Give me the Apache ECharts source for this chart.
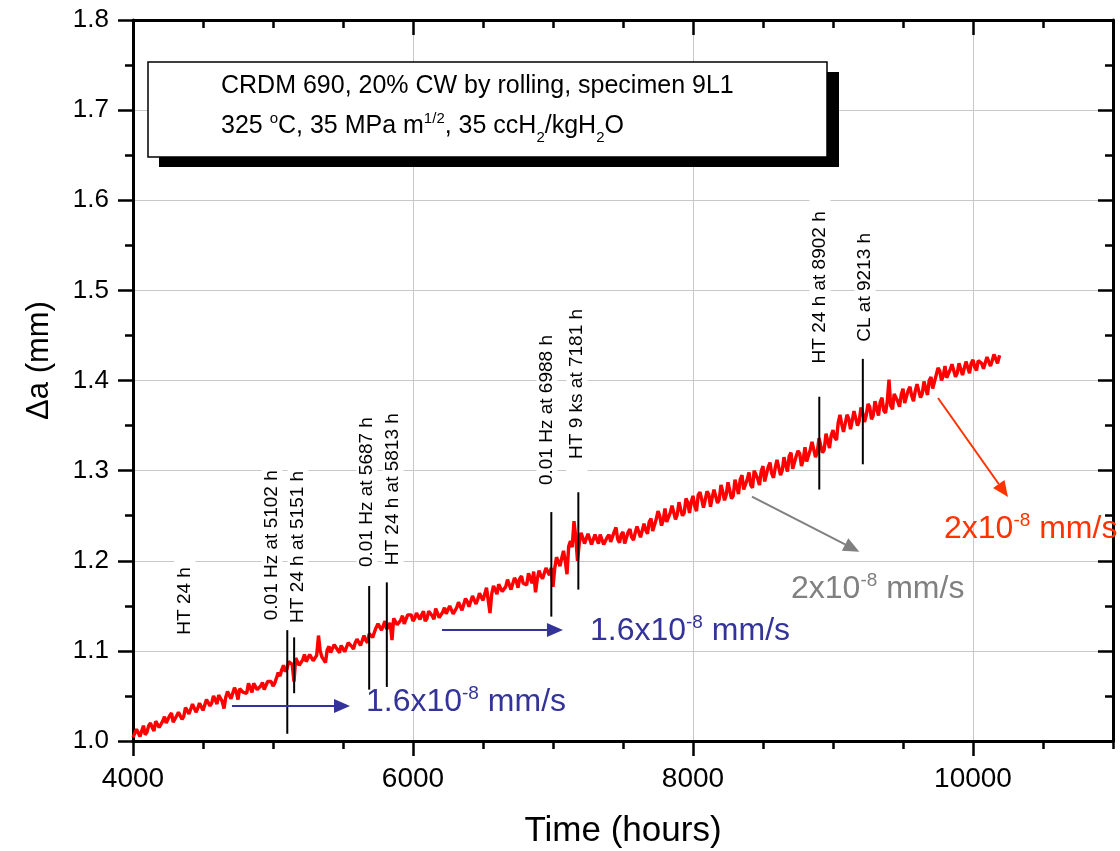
<!DOCTYPE html>
<html>
<head>
<meta charset="utf-8">
<script src="https://cdn.jsdelivr.net/npm/echarts@6/dist/echarts.min.js"></script>
<style>
  html, body { margin: 0; padding: 0; background: #fff; }
  #chart { width: 1120px; height: 851px; }
</style>
</head>
<body>
<div id="chart"></div>
<script>
// Crack extension Δa (mm) against test time (hours), in blocks of 1000 h
const growth4000 = [[4000,1.004],[4025,1.013],[4050,1.005],[4075,1.017],[4100,1.010],[4125,1.020],[4150,1.011],[4175,1.022],[4200,1.014],[4225,1.027],[4250,1.019],[4275,1.031],[4300,1.022],[4325,1.032],[4350,1.024],[4375,1.037],[4400,1.030],[4425,1.041],[4450,1.032],[4475,1.042],[4500,1.034],[4525,1.046],[4550,1.039],[4575,1.050],[4600,1.041],[4625,1.051],[4650,1.036],[4675,1.055],[4700,1.047],[4725,1.059],[4750,1.046],[4775,1.060],[4800,1.052],[4825,1.064],[4850,1.054],[4875,1.064],[4900,1.055],[4925,1.065],[4950,1.058],[4975,1.068],[5000,1.061]];
const growth5000 = [[5025,1.070],[5050,1.072],[5075,1.084],[5100,1.080],[5125,1.089],[5150,1.066],[5175,1.091],[5200,1.083],[5225,1.096],[5250,1.087],[5275,1.098],[5300,1.089],[5325,1.117],[5350,1.093],[5375,1.087],[5400,1.105],[5425,1.097],[5450,1.107],[5475,1.098],[5500,1.108],[5525,1.101],[5550,1.111],[5575,1.102],[5600,1.113],[5625,1.106],[5650,1.117],[5675,1.109],[5700,1.121],[5725,1.121],[5750,1.130],[5775,1.123],[5800,1.133],[5825,1.125],[5850,1.112],[5875,1.136],[5900,1.129],[5925,1.139],[5950,1.131],[5975,1.141],[6000,1.133]];
const growth6000 = [[6025,1.142],[6050,1.135],[6075,1.144],[6100,1.136],[6125,1.144],[6150,1.135],[6175,1.146],[6200,1.137],[6225,1.148],[6250,1.139],[6275,1.152],[6300,1.139],[6325,1.154],[6350,1.145],[6375,1.158],[6400,1.149],[6425,1.161],[6450,1.152],[6475,1.164],[6500,1.156],[6525,1.170],[6550,1.142],[6575,1.172],[6600,1.163],[6625,1.175],[6650,1.165],[6675,1.179],[6700,1.168],[6725,1.181],[6750,1.170],[6775,1.183],[6800,1.173],[6825,1.186],[6850,1.175],[6875,1.165],[6900,1.189],[6925,1.180],[6950,1.192],[6975,1.184],[7000,1.171]];
const growth7000 = [[7025,1.204],[7050,1.194],[7075,1.211],[7100,1.185],[7125,1.222],[7150,1.244],[7175,1.200],[7200,1.231],[7225,1.219],[7250,1.230],[7275,1.218],[7300,1.229],[7325,1.219],[7350,1.230],[7375,1.218],[7400,1.229],[7425,1.219],[7450,1.237],[7475,1.220],[7500,1.232],[7525,1.221],[7550,1.235],[7575,1.223],[7600,1.238],[7625,1.226],[7650,1.241],[7675,1.230],[7700,1.247],[7725,1.235],[7750,1.255],[7775,1.239],[7800,1.258],[7825,1.242],[7850,1.261],[7875,1.246],[7900,1.265],[7925,1.250],[7950,1.269],[7975,1.253],[8000,1.272]];
const growth8000 = [[8025,1.255],[8050,1.276],[8075,1.259],[8100,1.277],[8125,1.260],[8150,1.279],[8175,1.264],[8200,1.284],[8225,1.267],[8250,1.287],[8275,1.269],[8300,1.290],[8325,1.274],[8350,1.295],[8375,1.277],[8400,1.298],[8425,1.281],[8450,1.301],[8475,1.284],[8500,1.305],[8525,1.288],[8550,1.309],[8575,1.292],[8600,1.312],[8625,1.295],[8650,1.315],[8675,1.299],[8700,1.320],[8725,1.303],[8750,1.322],[8775,1.305],[8800,1.326],[8825,1.310],[8850,1.332],[8875,1.315],[8900,1.336],[8925,1.320],[8950,1.341],[8975,1.325],[9000,1.345]];
const growth9000 = [[9025,1.334],[9050,1.362],[9075,1.343],[9100,1.362],[9125,1.346],[9150,1.366],[9175,1.350],[9200,1.370],[9225,1.354],[9250,1.374],[9275,1.357],[9300,1.377],[9325,1.361],[9350,1.381],[9375,1.364],[9400,1.401],[9425,1.368],[9450,1.387],[9475,1.371],[9500,1.391],[9525,1.374],[9550,1.393],[9575,1.377],[9600,1.396],[9625,1.381],[9650,1.399],[9675,1.384],[9700,1.404],[9725,1.393],[9750,1.414],[9775,1.400],[9800,1.416],[9825,1.403],[9850,1.418],[9875,1.404],[9900,1.419],[9925,1.406],[9950,1.421],[9975,1.408],[10000,1.423],[10025,1.411],[10050,1.424],[10075,1.413],[10100,1.426],[10125,1.416],[10150,1.429],[10175,1.419],[10190,1.428]];

// Readings taken between the ones above
const between4000 = [[4012,1.005],[4037,1.013],[4062,1.011],[4087,1.007],[4112,1.017],[4137,1.015],[4162,1.022],[4187,1.015],[4212,1.022],[4237,1.020],[4262,1.028],[4287,1.021],[4312,1.028],[4337,1.033],[4362,1.027],[4387,1.034],[4412,1.031],[4437,1.041],[4462,1.036],[4487,1.041],[4512,1.035],[4537,1.046],[4562,1.042],[4587,1.046],[4612,1.051],[4637,1.044],[4662,1.048],[4687,1.055],[4712,1.047],[4737,1.055],[4762,1.058],[4787,1.054],[4812,1.053],[4837,1.059],[4862,1.064],[4887,1.057],[4912,1.061],[4937,1.057],[4962,1.066],[4987,1.066]];
const between5000 = [[5012,1.064],[5037,1.076],[5062,1.079],[5087,1.077],[5112,1.088],[5137,1.085],[5162,1.092],[5187,1.084],[5212,1.090],[5237,1.088],[5262,1.096],[5287,1.089],[5312,1.095],[5337,1.100],[5362,1.094],[5387,1.101],[5412,1.098],[5437,1.107],[5462,1.101],[5487,1.106],[5512,1.099],[5537,1.109],[5562,1.105],[5587,1.109],[5612,1.114],[5637,1.107],[5662,1.112],[5687,1.119],[5712,1.115],[5737,1.126],[5762,1.129],[5787,1.125],[5812,1.124],[5837,1.131],[5862,1.136],[5887,1.129],[5912,1.134],[5937,1.130],[5962,1.140],[5987,1.140]];
const between6000 = [[6012,1.136],[6037,1.144],[6062,1.140],[6087,1.133],[6112,1.144],[6137,1.139],[6162,1.147],[6187,1.137],[6212,1.143],[6237,1.141],[6262,1.150],[6287,1.141],[6312,1.148],[6337,1.154],[6362,1.146],[6387,1.155],[6412,1.151],[6437,1.162],[6462,1.157],[6487,1.163],[6512,1.156],[6537,1.168],[6562,1.163],[6587,1.168],[6612,1.174],[6637,1.166],[6662,1.171],[6687,1.177],[6712,1.168],[6737,1.178],[6762,1.180],[6787,1.175],[6812,1.173],[6837,1.181],[6862,1.188],[6887,1.179],[6912,1.184],[6937,1.181],[6962,1.191],[6987,1.192]];
const between7000 = [[7012,1.191],[7037,1.204],[7062,1.203],[7087,1.200],[7112,1.216],[7137,1.215],[7162,1.227],[7187,1.218],[7212,1.226],[7237,1.221],[7262,1.230],[7287,1.218],[7312,1.224],[7337,1.229],[7362,1.218],[7387,1.226],[7412,1.221],[7437,1.232],[7462,1.224],[7487,1.229],[7512,1.219],[7537,1.232],[7562,1.226],[7587,1.231],[7612,1.238],[7637,1.228],[7662,1.234],[7687,1.243],[7712,1.233],[7737,1.246],[7762,1.250],[7787,1.245],[7812,1.243],[7837,1.253],[7862,1.260],[7887,1.251],[7912,1.257],[7937,1.253],[7962,1.265],[7987,1.265]];
const between8000 = [[8012,1.261],[8037,1.273],[8062,1.268],[8087,1.259],[8112,1.274],[8137,1.270],[8162,1.281],[8187,1.268],[8212,1.277],[8237,1.273],[8262,1.286],[8287,1.272],[8312,1.282],[8337,1.290],[8362,1.279],[8387,1.290],[8412,1.284],[8437,1.300],[8462,1.291],[8487,1.299],[8512,1.288],[8537,1.304],[8562,1.297],[8587,1.303],[8612,1.312],[8637,1.300],[8662,1.306],[8687,1.316],[8712,1.302],[8737,1.316],[8762,1.319],[8787,1.312],[8812,1.310],[8837,1.323],[8862,1.332],[8887,1.320],[8912,1.328],[8937,1.323],[8962,1.339],[8987,1.339]];
const between9000 = [[9012,1.337],[9037,1.353],[9062,1.352],[9087,1.345],[9112,1.358],[9137,1.355],[9162,1.365],[9187,1.355],[9212,1.364],[9237,1.361],[9262,1.371],[9287,1.361],[9312,1.369],[9337,1.376],[9362,1.367],[9387,1.376],[9412,1.372],[9437,1.385],[9462,1.377],[9487,1.384],[9512,1.375],[9537,1.389],[9562,1.383],[9587,1.388],[9612,1.395],[9637,1.385],[9662,1.391],[9687,1.400],[9712,1.391],[9737,1.406],[9762,1.411],[9787,1.405],[9812,1.403],[9837,1.412],[9862,1.418],[9887,1.408],[9912,1.413],[9937,1.408],[9962,1.419],[9987,1.419],[10012,1.415],[10037,1.422],[10062,1.419],[10087,1.414],[10112,1.424],[10137,1.422],[10162,1.429]];

// Test events: vertical markers (hours, lower and upper end in mm)
const eventHours = [5102, 5151, 5687, 5813, 6988, 7181, 8902, 9213];
const eventLow   = [1.008, 1.053, 1.057, 1.060, 1.138, 1.168, 1.279, 1.307];
const eventHigh  = [1.123, 1.115, 1.172, 1.176, 1.254, 1.276, 1.382, 1.424];

// Event notes, written upward from (hours, mm)
const noteText  = ['HT 24 h', '0.01 Hz at 5102 h', 'HT 24 h at 5151 h', '0.01 Hz at 5687 h', 'HT 24 h at 5813 h',
                   '0.01 Hz at 6988 h', 'HT 9 ks at 7181 h', 'HT 24 h at 8902 h', 'CL at 9213 h'];
const noteHours = [4371, 4993, 5179, 5671, 5857, 6957, 7171, 8907, 9229];
const noteBase  = [1.118, 1.134, 1.131, 1.193, 1.195, 1.284, 1.313, 1.419, 1.443];

// Growth-rate callouts: arrow start, arrow tip, label anchor (hours, mm)
const rateMantissa = ['1.6', '1.6', '2', '2'];
const rateExponent = ['-8', '-8', '-8', '-8'];
const arrowFrom   = [[4707, 1.0388], [6207, 1.1232], [8421, 1.2711], [9750, 1.3806]];
const arrowTo     = [[5550, 1.0388], [7071, 1.1232], [9188, 1.2100], [10250, 1.2707]];
const rateLabelAt = [[5664, 1.0433], [7264, 1.1221], [8700, 1.1687], [9793, 1.2352]];

// Axis ranges and steps
const xRange = [4000, 11000], xMajor = 2000, xMinor = 500;
const yRange = [1.0, 1.8], yMajor = 0.1;

const FONT = '"Liberation Sans", Arial, Helvetica, sans-serif';
const rateColors = ['#333399', '#333399', '#808080', '#ff3300'];
const NOTE_PAD = 12;

// All readings in time order
const growthRecord = [].concat(
  growth4000, growth5000, growth6000, growth7000, growth8000, growth9000,
  between4000, between5000, between6000, between7000, between8000, between9000
).sort((a, b) => a[0] - b[0]);

const chart = echarts.init(document.getElementById('chart'), null, { renderer: 'canvas' });

const axisLine = { show: true, onZero: false, lineStyle: { color: '#000', width: 3 } };
const gridLine = { show: true, lineStyle: { color: '#c8c8c8', width: 1 } };

function xAxisDef(position, step, tickLen, extra) {
  return Object.assign({
    type: 'value', position, min: xRange[0], max: xRange[1], interval: step,
    axisLine: step === xMajor ? axisLine : { show: false },
    axisTick: { show: true, inside: position === 'top', length: tickLen, lineStyle: { color: '#000', width: 2.5 } },
    axisLabel: { show: false },
    splitLine: { show: false }
  }, extra || {});
}

const option = {
  animation: false,
  backgroundColor: '#fff',
  grid: { left: 133, right: 7, top: 20, bottom: 110, containLabel: false, outerBoundsMode: 'none' },
  xAxis: [
    xAxisDef('bottom', xMajor, 15, {
      axisLabel: {
        show: true, showMaxLabel: false, margin: 24, color: '#000', fontSize: 28, fontFamily: FONT,
        formatter: v => (v === xRange[1] ? '' : String(v))
      },
      splitLine: gridLine,
      name: 'Time (hours)', nameLocation: 'middle', nameGap: 73,
      nameTextStyle: { color: '#000', fontSize: 35, fontFamily: FONT }
    }),
    xAxisDef('bottom', xMinor, 8),
    xAxisDef('top', xMajor, 15),
    xAxisDef('top', xMinor, 8)
  ],
  yAxis: [
    {
      type: 'value', position: 'left', min: yRange[0], max: yRange[1], interval: yMajor,
      axisLine: axisLine,
      axisTick: { show: true, length: 15, lineStyle: { color: '#000', width: 2.5 } },
      minorTick: { show: true, splitNumber: 2, length: 8, lineStyle: { color: '#000', width: 2.5 } },
      axisLabel: { margin: 24, color: '#000', fontSize: 26, fontFamily: FONT, formatter: v => v.toFixed(1) },
      splitLine: gridLine,
      name: 'Δa (mm)', nameLocation: 'middle', nameGap: 78,
      nameTextStyle: { color: '#000', fontSize: 31, fontFamily: FONT, padding: [0, 0, 0, 40] }
    },
    {
      type: 'value', position: 'right', min: yRange[0], max: yRange[1], interval: yMajor,
      axisLine: axisLine,
      axisTick: { show: true, inside: true, length: 15, lineStyle: { color: '#000', width: 2.5 } },
      minorTick: { show: true, splitNumber: 2, length: 8, lineStyle: { color: '#000', width: 2.5 } },
      axisLabel: { show: false },
      splitLine: { show: false }
    }
  ],
  graphic: [
    { type: 'rect', z: 100, shape: { x: 159, y: 72, width: 680, height: 95 }, style: { fill: '#000' } },
    { type: 'rect', z: 101, shape: { x: 148, y: 62, width: 679, height: 95 }, style: { fill: '#fff', stroke: '#000', lineWidth: 1.5 } },
    { type: 'text', z: 102, x: 221, y: 86,
      style: { text: 'CRDM 690, 20% CW by rolling, specimen 9L1', font: '25px ' + FONT, fill: '#000', verticalAlign: 'middle' } },
    { type: 'text', z: 102, x: 221, y: 126,
      style: {
        text: '{m|325 }{s|o}{m|C, 35 MPa m}{s|1/2}{m|, 35 ccH}{b|2}{m|/kgH}{b|2}{m|O}',
        font: '25px ' + FONT, fill: '#000', verticalAlign: 'middle',
        rich: {
          m: { font: '25px ' + FONT, fill: '#000', lineHeight: 30 },
          s: { font: '15px ' + FONT, fill: '#000', lineHeight: 30, padding: [0, 0, 14, 0] },
          b: { font: '15px ' + FONT, fill: '#000', lineHeight: 30, padding: [24, 0, 0, 0] }
        }
      } }
  ],
  series: [
    {
      name: 'notes', type: 'custom', z: 1, clip: false, silent: true,
      encode: { x: 0, y: 1 },
      data: noteHours.map((h, i) => [h, noteBase[i]]),
      renderItem: (params, api) => {
        const p = api.coord([api.value(0), api.value(1)]);
        return {
          type: 'text', x: p[0], y: p[1] + NOTE_PAD, rotation: Math.PI / 2,
          style: {
            text: noteText[params.dataIndex], align: 'left', verticalAlign: 'middle',
            font: '19px ' + FONT, fill: '#000', backgroundColor: '#fff', padding: [1, NOTE_PAD, 1, NOTE_PAD]
          }
        };
      }
    },
    {
      name: 'Δa', type: 'line', z: 3, showSymbol: false, symbol: 'none', clip: true,
      lineStyle: { color: '#ff0000', width: 3.4 },
      data: growthRecord
    },
    {
      name: 'events', type: 'custom', z: 4, clip: false, silent: true,
      encode: { x: 0, y: [1, 2] },
      data: eventHours.map((h, i) => [h, eventLow[i], eventHigh[i]]),
      renderItem: (params, api) => {
        const lo = api.coord([api.value(0), api.value(1)]);
        const hi = api.coord([api.value(0), api.value(2)]);
        return { type: 'line', shape: { x1: lo[0], y1: lo[1], x2: hi[0], y2: hi[1] }, style: { stroke: '#000', lineWidth: 2 } };
      }
    },
    {
      name: 'rates', type: 'custom', z: 5, clip: false, silent: true,
      encode: { x: [0, 2, 4], y: [1, 3, 5] },
      data: arrowFrom.map((a, i) => [a[0], a[1], arrowTo[i][0], arrowTo[i][1], rateLabelAt[i][0], rateLabelAt[i][1]]),
      renderItem: (params, api) => {
        const i = params.dataIndex, c = rateColors[i];
        const a = api.coord([api.value(0), api.value(1)]);
        const b = api.coord([api.value(2), api.value(3)]);
        const t = api.coord([api.value(4), api.value(5)]);
        const dx = b[0] - a[0], dy = b[1] - a[1], len = Math.hypot(dx, dy);
        const ux = dx / len, uy = dy / len, L = 16, W = 7;
        const bx = b[0] - ux * L, by = b[1] - uy * L;
        return {
          type: 'group',
          children: [
            { type: 'line', shape: { x1: a[0], y1: a[1], x2: bx, y2: by }, style: { stroke: c, lineWidth: 2 } },
            { type: 'polygon', shape: { points: [[b[0], b[1]], [bx - uy * W, by + ux * W], [bx + uy * W, by - ux * W]] }, style: { fill: c } },
            {
              type: 'text', x: t[0], y: t[1],
              style: {
                text: '{m|' + rateMantissa[i] + 'x10}{s|' + rateExponent[i] + '}{m| mm/s}',
                align: 'left', verticalAlign: 'middle', fill: c, font: '32px ' + FONT,
                rich: {
                  m: { font: '32px ' + FONT, fill: c, lineHeight: 36 },
                  s: { font: '19px ' + FONT, fill: c, lineHeight: 36, padding: [0, 0, 16, 0] }
                }
              }
            }
          ]
        };
      }
    }
  ]
};

chart.setOption(option);
</script>
</body>
</html>
